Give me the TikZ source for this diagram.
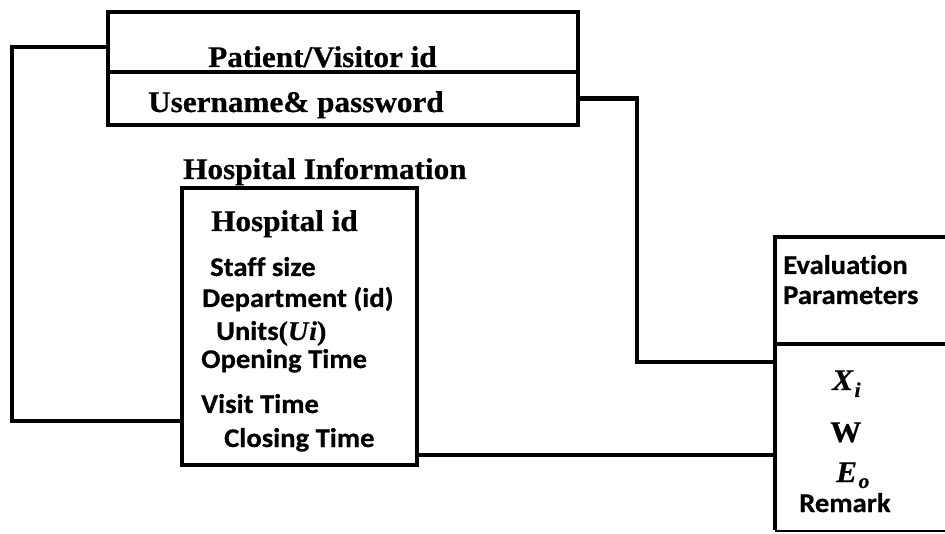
\documentclass[tikz,border=0pt]{standalone}
\usepackage{fontspec}
\setmainfont{Liberation Serif}
\newfontfamily\serifbx[FakeStretch=1.04,FakeBold=0.6]{Liberation Serif}
\newfontfamily\sansbx[FakeStretch=1.06,FakeBold=0.6,Ligatures={NoCommon}]{Carlito}
\begin{document}
\begin{tikzpicture}[x=1pt,y=-1pt,
  box/.style={draw, line width=4.5pt, inner sep=0pt, outer sep=0pt},
  conn/.style={line width=4.5pt},
  st/.style={inner sep=0pt, anchor=base west, font=\serifbx\bfseries\fontsize{30}{30}\selectfont},
  sti/.style={inner sep=0pt, anchor=base west, font=\serifbx\bfseries\itshape\fontsize{30}{30}\selectfont},
  ss/.style={inner sep=0pt, anchor=base west, font=\sansbx\bfseries\fontsize{27}{27}\selectfont}]
\useasboundingbox[fill=white] (0,0) rectangle (945,534);
% boxes
\node[box, minimum width=470pt, minimum height=60pt] (pv) at (343,42) {};
\node[box, minimum width=470pt, minimum height=53pt] (up) at (343,98.5) {};
\node[box, minimum width=235pt, minimum height=277pt] (hosp) at (299.5,326.5) {};
\node[box, minimum width=190pt, minimum height=107pt] (evh) at (870,290.5) {};
\coordinate (evb) at (775,531);
\coordinate (evr) at (950,531);
\draw[conn] (evh.south west) -- ([yshift=1pt]evb);
\draw[line width=2pt] (evb) -- (evr);
% connectors
\coordinate (lc) at (12,421);
\draw[conn] ([yshift=-5pt]pv.west) -| (lc) -- (lc -| hosp.west);
\coordinate (rc) at (637,362);
\draw[conn] (up.east) -| (rc) -- (rc -| evh.west);
\coordinate (bc) at (417,455);
\draw[conn] (bc -| hosp.east) -- (bc -| evh.west);
% texts
\node[st] (t1) at (208,67) {Patient/Visitor id};
\node[st] (t2) at (148,112) {Username\& password};
\node[st] (t3) at (183,179) {Hospital Information};
\node[st] (t4) at (211,231) {Hospital id};
\node[ss] (t5) at (210,276) {Staff size};
\node[ss] (t6) at (202,307) {Department (id)};
\node[ss] (t7) at (216,340) {Units{\serifbx\bfseries(}{\serifbx\bfseries\itshape U\kern1pt i}{\serifbx\bfseries)}};
\node[ss] (t8) at (201,368) {Opening Time};
\node[ss] (t9) at (201,413) {Visit Time};
\node[ss] (t10) at (224,447) {Closing Time};
\node[ss] (e1) at (783,274) {Evaluation};
\node[ss] (e2) at (783,304) {Parameters};
\node[sti] (e3) at (832,390) {X\kern1.5pt\raisebox{-7pt}{\fontsize{21}{21}\selectfont i}};
\node[st] (e4) at (830,442) {W};
\node[sti] (e5) at (836,482) {E\kern1.5pt\raisebox{-6pt}{\fontsize{21}{21}\selectfont o}};
\node[ss] (e6) at (799,512) {Remark};
\end{tikzpicture}
\end{document}
